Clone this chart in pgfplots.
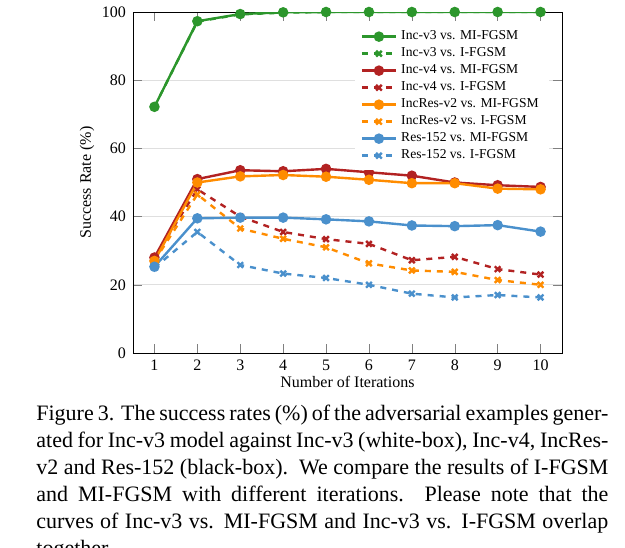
\documentclass[border=0pt]{standalone}
\usepackage{pgfplots}
\pgfplotsset{compat=1.18}
\usepackage{fontspec}
\setmainfont{Liberation Serif}
\definecolor{cg}{RGB}{44,150,44}
\definecolor{cr}{RGB}{178,34,34}
\definecolor{co}{RGB}{255,140,0}
\definecolor{cb}{RGB}{74,144,204}
\begin{document}
\begin{tikzpicture}
\path[use as bounding box] (-66.5pt,-97pt) rectangle (246pt,176.5pt);
\begin{axis}[at={(0,0)},anchor=south west,scale only axis,width=214.5pt,height=170.5pt,
 xmin=0.5,xmax=10.5,ymin=0,ymax=100,xtick={1,...,10},ytick={0,20,...,100},
 ymajorgrids,grid style={gray!25},tick align=inside,
 xlabel={Number of Iterations},ylabel={Success Rate (\%)},
 label style={font=\fontsize{8}{9.5}\selectfont},
 tick label style={font=\fontsize{8}{9.5}\selectfont},
 /pgf/number format/assume math mode=true,
 xlabel style={yshift=4pt},ylabel style={yshift=-3pt},
 legend style={draw=none,fill=white,font=\fontsize{6.8}{8}\selectfont,at={(0.97,0.97)},anchor=north east,row sep=-1.5pt},
 legend cell align=left,
 every axis plot/.append style={line width=1.2pt,mark size=2pt},
]
\addplot[cg,mark=*] coordinates {(1,72.2)(2,97.3)(3,99.4)(4,99.9)(5,100)(6,100)(7,100)(8,100)(9,100)(10,100)};
\addplot[cg,dashed,mark=x,mark options={solid}] coordinates {(1,72.2)(2,97.2)(3,99.3)(4,99.8)(5,100)(6,100)(7,100)(8,100)(9,100)(10,100)};
\addplot[cr,mark=*] coordinates {(1,28)(2,51)(3,53.6)(4,53.3)(5,54)(6,53)(7,52)(8,50)(9,49.2)(10,48.7)};
\addplot[cr,dashed,mark=x,mark options={solid}] coordinates {(1,28)(2,48)(3,40)(4,35.5)(5,33.4)(6,32)(7,27.2)(8,28.2)(9,24.6)(10,23)};
\addplot[co,mark=*] coordinates {(1,27)(2,50)(3,51.8)(4,52.2)(5,51.7)(6,50.8)(7,49.8)(8,49.8)(9,48.2)(10,48)};
\addplot[co,dashed,mark=x,mark options={solid}] coordinates {(1,27)(2,46.5)(3,36.5)(4,33.5)(5,31)(6,26.3)(7,24.2)(8,23.8)(9,21.4)(10,20)};
\addplot[cb,mark=*] coordinates {(1,25.3)(2,39.5)(3,39.7)(4,39.7)(5,39.2)(6,38.6)(7,37.4)(8,37.2)(9,37.5)(10,35.6)};
\addplot[cb,dashed,mark=x,mark options={solid}] coordinates {(1,25)(2,35.5)(3,25.8)(4,23.3)(5,22)(6,20)(7,17.4)(8,16.3)(9,17)(10,16.3)};
\legend{Inc-v3 vs. MI-FGSM,Inc-v3 vs. I-FGSM,Inc-v4 vs. MI-FGSM,Inc-v4 vs. I-FGSM,IncRes-v2 vs. MI-FGSM,IncRes-v2 vs. I-FGSM,Res-152 vs. MI-FGSM,Res-152 vs. I-FGSM}
\end{axis}
\node[anchor=north west,inner sep=0pt,text width=286pt,align=justify,font=\fontsize{11}{13.5}\selectfont] at (-48.5pt,-26pt)
{Figure 3. The success rates (\%) of the adversarial examples gener\-ated for Inc-v3 model against Inc-v3 (white-box), Inc-v4, IncRes-\\v2 and Res-152 (black-box).\ \ We compare the results of I-FGSM and MI-FGSM with different iterations. Please note that the curves of Inc-v3 vs. MI-FGSM and Inc-v3 vs. I-FGSM overlap together.};
\end{tikzpicture}
\end{document}
